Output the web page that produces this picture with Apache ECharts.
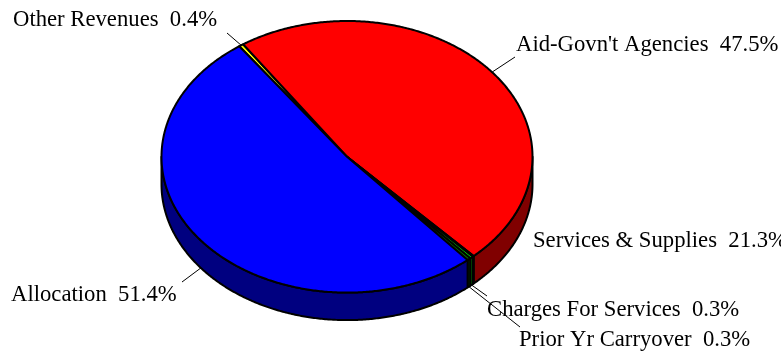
<!DOCTYPE html>
<html>
<head>
<meta charset="utf-8">
<script src="https://cdn.jsdelivr.net/npm/echarts@6/dist/echarts.min.js"></script>
<style>html,body{margin:0;padding:0;background:#fff;}#chart{width:781px;height:354px;}</style>
</head>
<body>
<div id="chart"></div>
<script>
// ---- data ----
const categories = ['Other Revenues', "Aid-Govn't Agencies", 'Services & Supplies', 'Charges For Services', 'Prior Yr Carryover', 'Allocation'];
const values = [0.4, 47.5, 0.1, 0.3, 0.3, 51.4];
const percentLabels = ['0.4%', '47.5%', '21.3%', '0.3%', '0.3%', '51.4%'];

// ---- styles / layout ----
const topColors = ['#FFFF00', '#FF0000', '#800000', '#00FF00', '#008000', '#0000FF'];
const sideColors = ['#808000', '#800000', '#400000', '#008000', '#004000', '#000080'];
const labelLayout = [
  { x: 13, y: 20, lx: 227, ly: 33 },
  { x: 516, y: 45.5, lx: 515, ly: 57 },
  { x: 533, y: 241, lx: null, ly: null },
  { x: 487, y: 310.5, lx: 487, ly: 296 },
  { x: 519, y: 340.5, lx: 520, ly: 327 },
  { x: 11, y: 295.5, lx: 182, ly: 282 }
];
const CX = 347, CY = 156.8, RX = 185.5, RY = 135.8, DEPTH = 27.5, START = -35.5;
const FONT = 'Liberation Serif';

const total = values.reduce((s, v) => s + v, 0);
let acc = START;
const sliceData = values.map((v, i) => {
  const a = acc; acc += v / total * 360;
  return { name: categories[i], value: [a, acc, v] };
});

function ellPt(t, dy) {
  const r = t * Math.PI / 180;
  return [CX + RX * Math.sin(r), CY - RY * Math.cos(r) + (dy || 0)];
}
function arcPts(a, b, dy) {
  const n = Math.max(2, Math.ceil(Math.abs(b - a) / 0.5));
  const pts = [];
  for (let k = 0; k <= n; k++) pts.push(ellPt(a + (b - a) * k / n, dy));
  return pts;
}

const chart = echarts.init(document.getElementById('chart'), null, { renderer: 'canvas' });
chart.setOption({
  animation: false,
  backgroundColor: '#fff',
  series: [
    {
      type: 'custom', coordinateSystem: 'none', z: 1, silent: true,
      data: sliceData,
      renderItem: function (params, api) {
        const a = api.value(0), b = api.value(1), i = params.dataIndex;
        const s = Math.max(a, 90), e = Math.min(b, 270);
        if (e <= s) return null;
        const pts = arcPts(s, e, 0).concat(arcPts(s, e, DEPTH).reverse());
        return { type: 'polygon', shape: { points: pts },
          style: { fill: sideColors[i], stroke: '#000', lineWidth: 2, lineJoin: 'round' } };
      }
    },
    {
      type: 'custom', coordinateSystem: 'none', z: 2, silent: true,
      data: sliceData,
      renderItem: function (params, api) {
        const a = api.value(0), b = api.value(1), i = params.dataIndex;
        const pts = [[CX, CY]].concat(arcPts(a, b, 0));
        return { type: 'polygon', shape: { points: pts },
          style: { fill: topColors[i], stroke: '#000', lineWidth: 2, lineJoin: 'round' } };
      }
    },
    {
      type: 'custom', coordinateSystem: 'none', z: 3, silent: true,
      data: sliceData,
      renderItem: function (params, api) {
        const a = api.value(0), b = api.value(1), i = params.dataIndex;
        const mid = (a + b) / 2;
        const front = Math.cos(mid * Math.PI / 180) < 0;
        const p = ellPt(mid, front ? DEPTH : 0);
        const L = labelLayout[i];
        const children = [];
        if (L.lx !== null) {
          children.push({ type: 'line', shape: { x1: p[0], y1: p[1], x2: L.lx, y2: L.ly },
            style: { stroke: '#000', lineWidth: 1 } });
        }
        children.push({ type: 'text', x: L.x, y: L.y,
          style: { text: categories[i] + '  ' + percentLabels[i], fill: '#000',
            font: '22.7px "' + FONT + '"', textAlign: 'left', textVerticalAlign: 'middle' } });
        return { type: 'group', children: children };
      }
    }
  ]
});
</script>
</body>
</html>
